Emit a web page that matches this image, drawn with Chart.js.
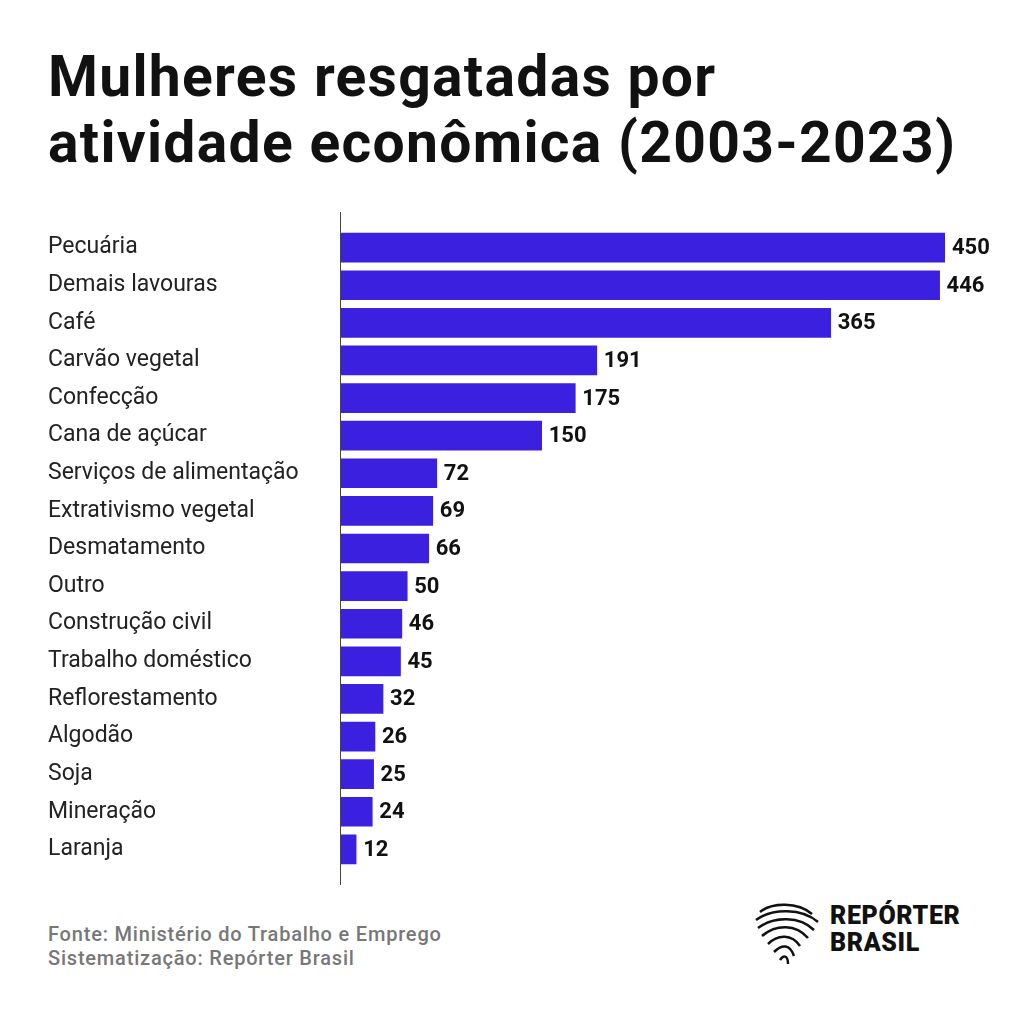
<!DOCTYPE html>
<html>
<head>
<meta charset="utf-8">
<script src="https://cdn.jsdelivr.net/npm/chart.js@4"></script>
<style>
  body { margin: 0; background: #fff; width: 1024px; height: 1024px; position: relative; font-family: Roboto, sans-serif; }
  h1 { position: absolute; left: 48px; top: 44px; margin: 0; font-size: 57px; line-height: 66px; font-weight: 700; color: #111; letter-spacing: 1.3px; }
  #wrap { position: absolute; left: 0; top: 212px; width: 1024px; height: 673px; }
  .foot { position: absolute; left: 48px; top: 922px; font-size: 20px; line-height: 24px; color: #777; font-weight: 500; letter-spacing: 0.8px; }
  .logo { position: absolute; left: 830px; top: 902px; font-size: 25px; line-height: 27px; font-weight: 900; color: #111; letter-spacing: 0.6px; }
  svg { position: absolute; left: 752px; top: 898px; }
</style>
</head>
<body>
<h1>Mulheres resgatadas por<br>atividade econômica (2003-2023)</h1>
<div id="wrap"><canvas id="chart"></canvas></div>
<div class="foot">Fonte: Ministério do Trabalho e Emprego<br>Sistematização: Repórter Brasil</div>
<svg width="70" height="70" viewBox="0 0 70 70">
  <g fill="none" stroke="#111" stroke-width="2.5">
    <path d="M8 14 C20 4 46 4 60 16"/><path d="M4 22 C20 10 50 10 66 24"/>
    <path d="M6 30 C22 18 48 18 62 32"/><path d="M10 38 C24 26 44 26 56 40"/>
    <path d="M16 46 C26 36 40 36 48 48"/><path d="M22 54 C30 46 38 46 42 58"/>
    <path d="M28 62 C32 56 36 58 36 66"/>
  </g>
</svg>
<div class="logo">REPÓRTER<br>BRASIL</div>
<script>
const categories = ['Pecuária', 'Demais lavouras', 'Café', 'Carvão vegetal', 'Confecção', 'Cana de açúcar',
  'Serviços de alimentação', 'Extrativismo vegetal', 'Desmatamento', 'Outro', 'Construção civil',
  'Trabalho doméstico', 'Reflorestamento', 'Algodão', 'Soja', 'Mineração', 'Laranja'];
const values = [450, 446, 365, 191, 175, 150, 72, 69, 66, 50, 46, 45, 32, 26, 25, 24, 12];

// value labels and the full-height axis line
const extras = {
  id: 'extras',
  afterDatasetsDraw(chart) {
    const ctx = chart.ctx, area = chart.chartArea;
    ctx.save();
    ctx.strokeStyle = '#444';
    ctx.lineWidth = 1;
    ctx.beginPath();
    ctx.moveTo(area.left + 0.5, 0);
    ctx.lineTo(area.left + 0.5, chart.height);
    ctx.stroke();
    ctx.font = '700 22px Roboto';
    ctx.fillStyle = '#111';
    ctx.textBaseline = 'middle';
    chart.getDatasetMeta(0).data.forEach((bar, i) => {
      ctx.fillText(values[i], bar.x + 7, bar.y + 1);
    });
    ctx.restore();
  }
};

new Chart(document.getElementById('chart'), {
  type: 'bar',
  data: {
    labels: categories,
    datasets: [{
      data: values,
      backgroundColor: '#3b20e0',
      barThickness: 29
    }]
  },
  options: {
    indexAxis: 'y',
    responsive: true,
    maintainAspectRatio: false,
    animation: false,
    layout: { padding: { left: 48, right: 79, top: 13, bottom: 14 } },
    plugins: { legend: { display: false }, tooltip: { enabled: false } },
    scales: {
      x: { min: 0, max: 450, display: false },
      y: {
        afterFit(scale) { scale.width = 292; },
        grid: { display: false },
        border: { display: false },
        ticks: { crossAlign: 'far', color: '#222', font: { family: 'Roboto', size: 23 } }
      }
    }
  },
  plugins: [extras]
});
</script>
</body>
</html>
